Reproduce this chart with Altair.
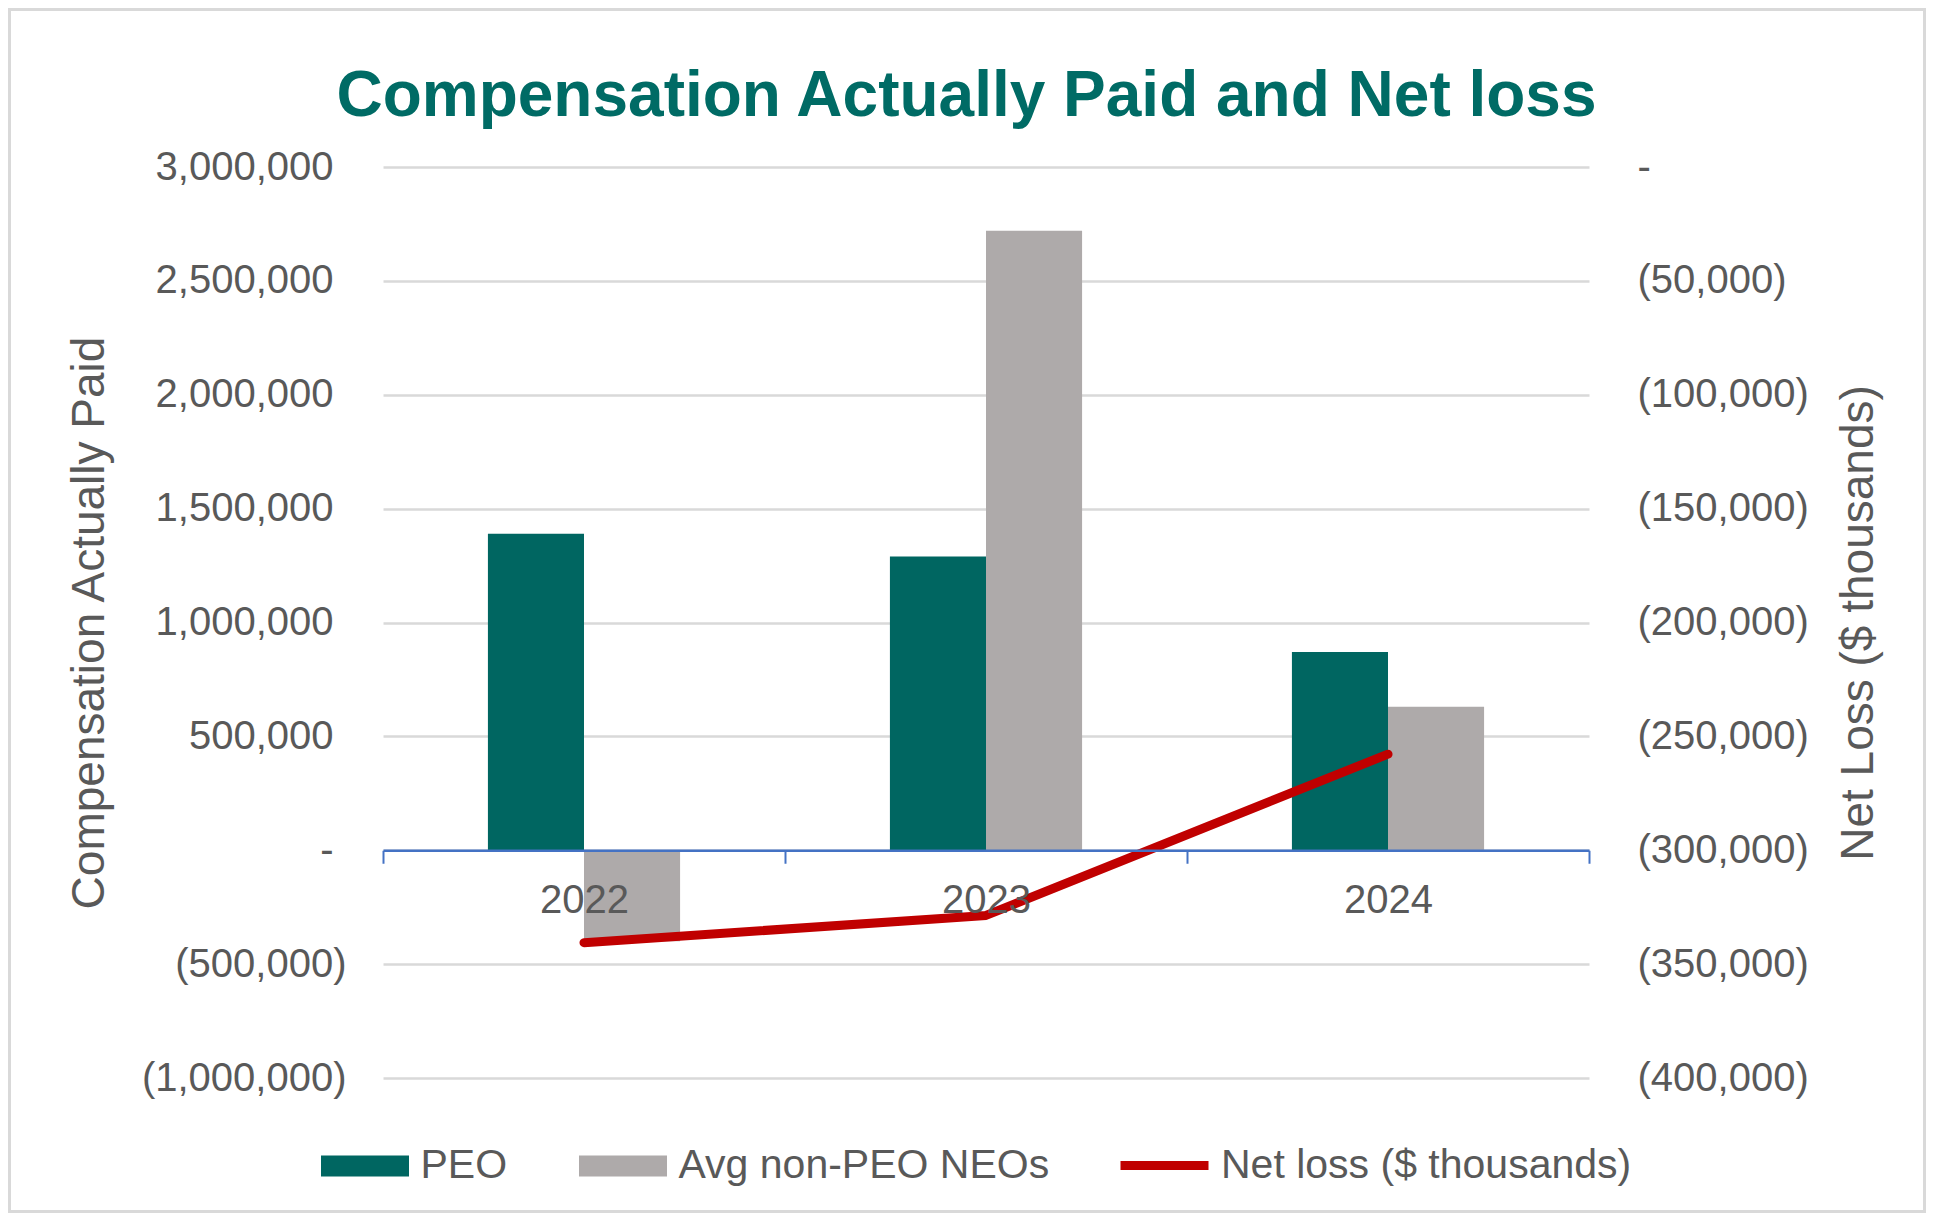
import altair as alt
import pandas as pd

# ---- data ----
years = ["2022", "2023", "2024"]
series_names = ["PEO", "Avg non-PEO NEOs"]
peo_cap = [1390000, 1290000, 870000]
non_peo_cap = [-400000, 2720000, 630000]
net_loss = [-340600, -328600, -257800]
line_label = "Net loss ($ thousands)"
left_ticks = [-1000000, -500000, 0, 500000, 1000000, 1500000, 2000000, 2500000, 3000000]
right_ticks = [-400000, -350000, -300000, -250000, -200000, -150000, -100000, -50000, 0]
# empty slots either side of the two bars inside each year band
offset_domain = ["_gap_left"] + series_names + ["_gap_right"]

bars_df = pd.DataFrame({
    "year": years + years,
    "series": [series_names[0]] * 3 + [series_names[1]] * 3,
    "value": peo_cap + non_peo_cap,
})
line_df = pd.DataFrame({"year": years, "net_loss": net_loss, "label": [line_label] * 3})
frame_df = pd.DataFrame({"f": [0]})

W, H = 1206, 911
PAD = {"left": 375, "top": 159, "right": 337, "bottom": 135}
zero_offset = -(H - H * 3 / 4)

FONT = "Liberation Sans"
GREY_TXT = "#595959"
acct = ("datum.value == 0 ? '-' : datum.value < 0 ? '(' + format(-datum.value, ',') + ')' "
        ": format(datum.value, ',')")

x_enc = alt.X(
    "year:N",
    sort=years,
    scale=alt.Scale(paddingInner=0, paddingOuter=0),
    axis=alt.Axis(
        orient="bottom", offset=zero_offset, title=None, labelAngle=0,
        tickBand="extent", domainColor="#4472C4", domainWidth=2.5,
        tickColor="#4472C4", tickWidth=2, tickSize=13, labelPadding=17,
        labelFontSize=40, grid=False, zindex=1, labelLimit=400,
    ),
)

bars = alt.Chart(bars_df).mark_bar().encode(
    x=x_enc,
    xOffset=alt.XOffset("series:N",
                        scale=alt.Scale(domain=offset_domain, paddingInner=0, paddingOuter=0.092)),
    y=alt.Y(
        "value:Q",
        scale=alt.Scale(domain=[-1000000, 3000000], nice=False, zero=False),
        axis=alt.Axis(
            values=left_ticks, labelExpr=acct, labelLimit=400,
            labelPadding={"condition": {"test": "datum.value < 0", "value": 37}, "value": 50},
            domain=False, ticks=False, grid=True, gridColor="#D9D9D9", gridWidth=2.5,
            title="Compensation Actually Paid", titleAngle=270, titleX=-280, titleY=H / 2,
            titleBaseline="alphabetic", titleAlign="center",
            labelFontSize=40, titleFontSize=46,
        ),
    ),
    color=alt.Color(
        "series:N",
        sort=series_names,
        scale=alt.Scale(domain=series_names, range=["#006661", "#AEAAAA"]),
        legend=alt.Legend(
            orient="none", legendX=-62, legendY=955, direction="horizontal", title=None,
            symbolType="M-1,-0.239H1V0.239H-1Z", symbolSize=7744, symbolStrokeWidth=0,
            labelOffset=11.5, columnPadding=71, labelFontSize=41, padding=0, labelLimit=600,
        ),
    ),
)

line = alt.Chart(line_df).mark_line(strokeWidth=9, strokeCap="round", strokeJoin="round").encode(
    x=alt.X("year:N", sort=years),
    y=alt.Y(
        "net_loss:Q",
        scale=alt.Scale(domain=[-400000, 0], nice=False, zero=False),
        axis=alt.Axis(
            orient="right", values=right_ticks, labelExpr=acct, labelAlign="left",
            labelPadding=48, domain=False, ticks=False, grid=False, labelLimit=400,
            title="Net Loss ($ thousands)", titleAngle=270, titleX=283, titleY=H / 2,
            titleBaseline="alphabetic", titleAlign="center",
            labelFontSize=40, titleFontSize=46,
        ),
    ),
    stroke=alt.Stroke(
        "label:N",
        scale=alt.Scale(domain=[line_label], range=["#C00000"]),
        legend=alt.Legend(
            orient="none", legendX=733, legendY=950, title=None,
            symbolType="stroke", symbolSize=7744, symbolStrokeWidth=9,
            labelOffset=8, labelFontSize=41, padding=0, labelLimit=600,
        ),
    ),
)

svg_w = PAD["left"] + W + PAD["right"]
svg_h = PAD["top"] + H + PAD["bottom"]
frame = alt.Chart(frame_df).mark_rect(fillOpacity=0, stroke="#D9D9D9", strokeWidth=3).encode(
    x=alt.value(-PAD["left"] + 1.5),
    x2=alt.value(svg_w - PAD["left"] - 1.5),
    y=alt.value(-PAD["top"] + 1.5),
    y2=alt.value(svg_h - PAD["top"] - 1.5),
)

chart = (
    alt.layer(bars, line, frame)
    .resolve_scale(y="independent")
    .properties(
        width=W,
        height=H,
        autosize=alt.AutoSizeParams(type="none"),
        padding=PAD,
        background="white",
        title=alt.TitleParams(
            "Compensation Actually Paid and Net loss",
            fontSize=64, font=FONT, fontWeight="bold", color="#006B65",
            anchor="middle", baseline="alphabetic", offset=0, dy=172, dx=-19.5,
        ),
    )
    .configure_view(strokeWidth=0)
    .configure_axis(labelFont=FONT, titleFont=FONT, labelColor=GREY_TXT, titleColor=GREY_TXT,
                    titleFontWeight="normal")
    .configure_legend(labelFont=FONT, labelColor=GREY_TXT)
)

chart.save("out.html", embed_options={"renderer": "svg", "actions": False})
